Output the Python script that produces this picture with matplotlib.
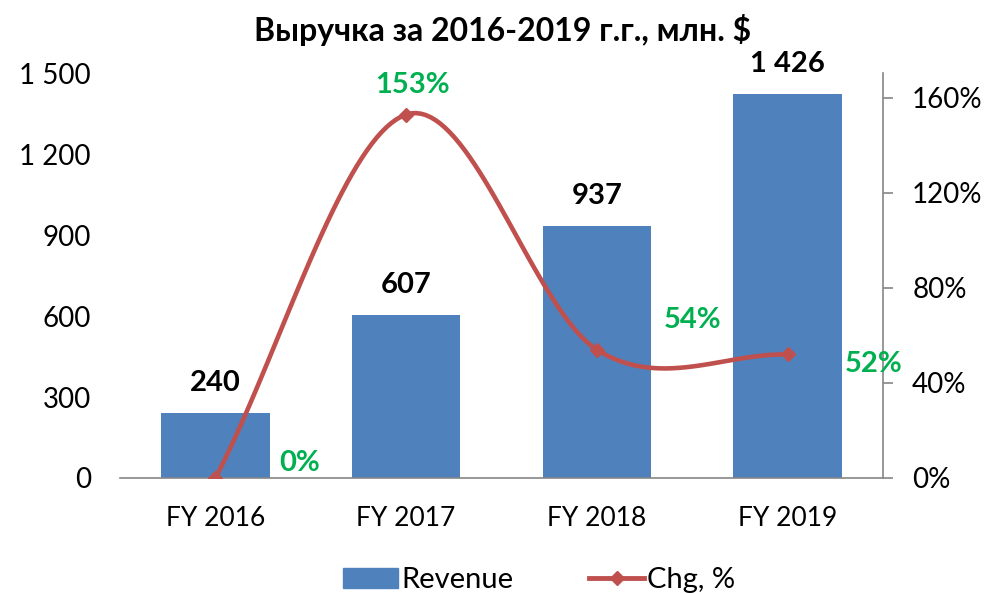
import numpy as np
import matplotlib.pyplot as plt
from matplotlib.patches import Patch
from matplotlib.lines import Line2D

plt.rcParams['font.family'] = ['Lato', 'DejaVu Sans']

years = ["FY 2016", "FY 2017", "FY 2018", "FY 2019"]
revenue = [240, 607, 937, 1426]
chg = [0, 153, 54, 52]
rev_labels = ["240", "607", "937", "1 426"]
chg_labels = ["0%", "153%", "54%", "52%"]
# label offsets (pixels) for the % labels
chg_offsets = [(84, 15), (6, 30), (96, 30), (86, -10)]

bar_color = "#4F81BD"
line_color = "#C0504D"
green = "#00B050"


def catmull_rom(xs, ys, n=40):
    # smooth line like excel "smoothed line"
    xs = np.asarray(xs, float)
    ys = np.asarray(ys, float)
    px = np.concatenate([[2 * xs[0] - xs[1]], xs, [2 * xs[-1] - xs[-2]]])
    py = np.concatenate([[2 * ys[0] - ys[1]], ys, [2 * ys[-1] - ys[-2]]])
    out_x, out_y = [], []
    for i in range(1, len(px) - 2):
        t = np.linspace(0, 1, n)
        for arr, out in ((px, out_x), (py, out_y)):
            p0, p1, p2, p3 = arr[i - 1], arr[i], arr[i + 1], arr[i + 2]
            out.extend(0.5 * ((2 * p1) + (-p0 + p2) * t
                              + (2 * p0 - 5 * p1 + 4 * p2 - p3) * t ** 2
                              + (-p0 + 3 * p1 - 3 * p2 + p3) * t ** 3))
    return np.array(out_x), np.array(out_y)


fig = plt.figure(figsize=(9.89, 5.93), dpi=100)
ax = fig.add_axes([120 / 989, 1 - 478 / 593, 763 / 989, 405 / 593])
ax2 = ax.twinx()

x = np.arange(len(years))
ax.bar(x, revenue, width=0.57, color=bar_color, zorder=2)
ax.set_xlim(-0.5, 3.5)
ax.set_ylim(0, 1500 * 405 / 404)
ax.set_yticks([0, 300, 600, 900, 1200, 1500])
ax.set_yticklabels(["0", "300", "600", "900", "1 200", "1 500"])
ax.set_xticks(x)
ax.set_xticklabels(years)
ax.tick_params(axis='y', length=0, pad=21, labelsize=20)
ax.tick_params(axis='x', length=0, pad=20, labelsize=19)
for s in ["top", "left", "right"]:
    ax.spines[s].set_visible(False)
ax.spines["bottom"].set_color("#868686")
ax.spines["bottom"].set_linewidth(1.2)

for xi, v, lab in zip(x, revenue, rev_labels):
    ax.annotate(lab, (xi, v), xytext=(0, 17), textcoords='offset pixels',
                ha='center', va='bottom', fontsize=21, fontweight='bold')

sx, sy = catmull_rom(x, chg)
ax2.plot(sx, sy, color=line_color, lw=3.3, zorder=3, solid_capstyle='round')
ax2.plot(x, chg, ls='none', marker='D', ms=7, color=line_color, zorder=4)
ax2.set_ylim(0, 170.5)
ax2.set_yticks([0, 40, 80, 120, 160])
ax2.set_yticklabels(["0%", "40%", "80%", "120%", "160%"])
ax2.tick_params(axis='y', length=7, width=1.2, color="#868686", pad=14, labelsize=20)
for s in ["top", "left", "bottom"]:
    ax2.spines[s].set_visible(False)
ax2.spines["right"].set_color("#868686")
ax2.spines["right"].set_linewidth(1.2)

for xi, v, lab, off in zip(x, chg, chg_labels, chg_offsets):
    ax2.annotate(lab, (xi, v), xytext=off, textcoords='offset pixels',
                 ha='center', va='center', fontsize=21, fontweight='bold', color=green)

fig.text(0.508, 1 - 30 / 593, "Выручка за 2016-2019 г.г., млн. $",
         ha='center', va='center', fontsize=23, fontweight='bold')

handles = [Patch(color=bar_color, label="Revenue"),
           Line2D([0], [0], color=line_color, lw=3.5, marker='D', ms=7, label="Chg, %")]
fig.legend(handles=handles, loc='center', bbox_to_anchor=(0.545, 1 - 580 / 593),
           ncol=2, frameon=False, fontsize=21, handlelength=1.9,
           handletextpad=0.1, columnspacing=2.6)

fig.savefig("out.png", dpi=100)
